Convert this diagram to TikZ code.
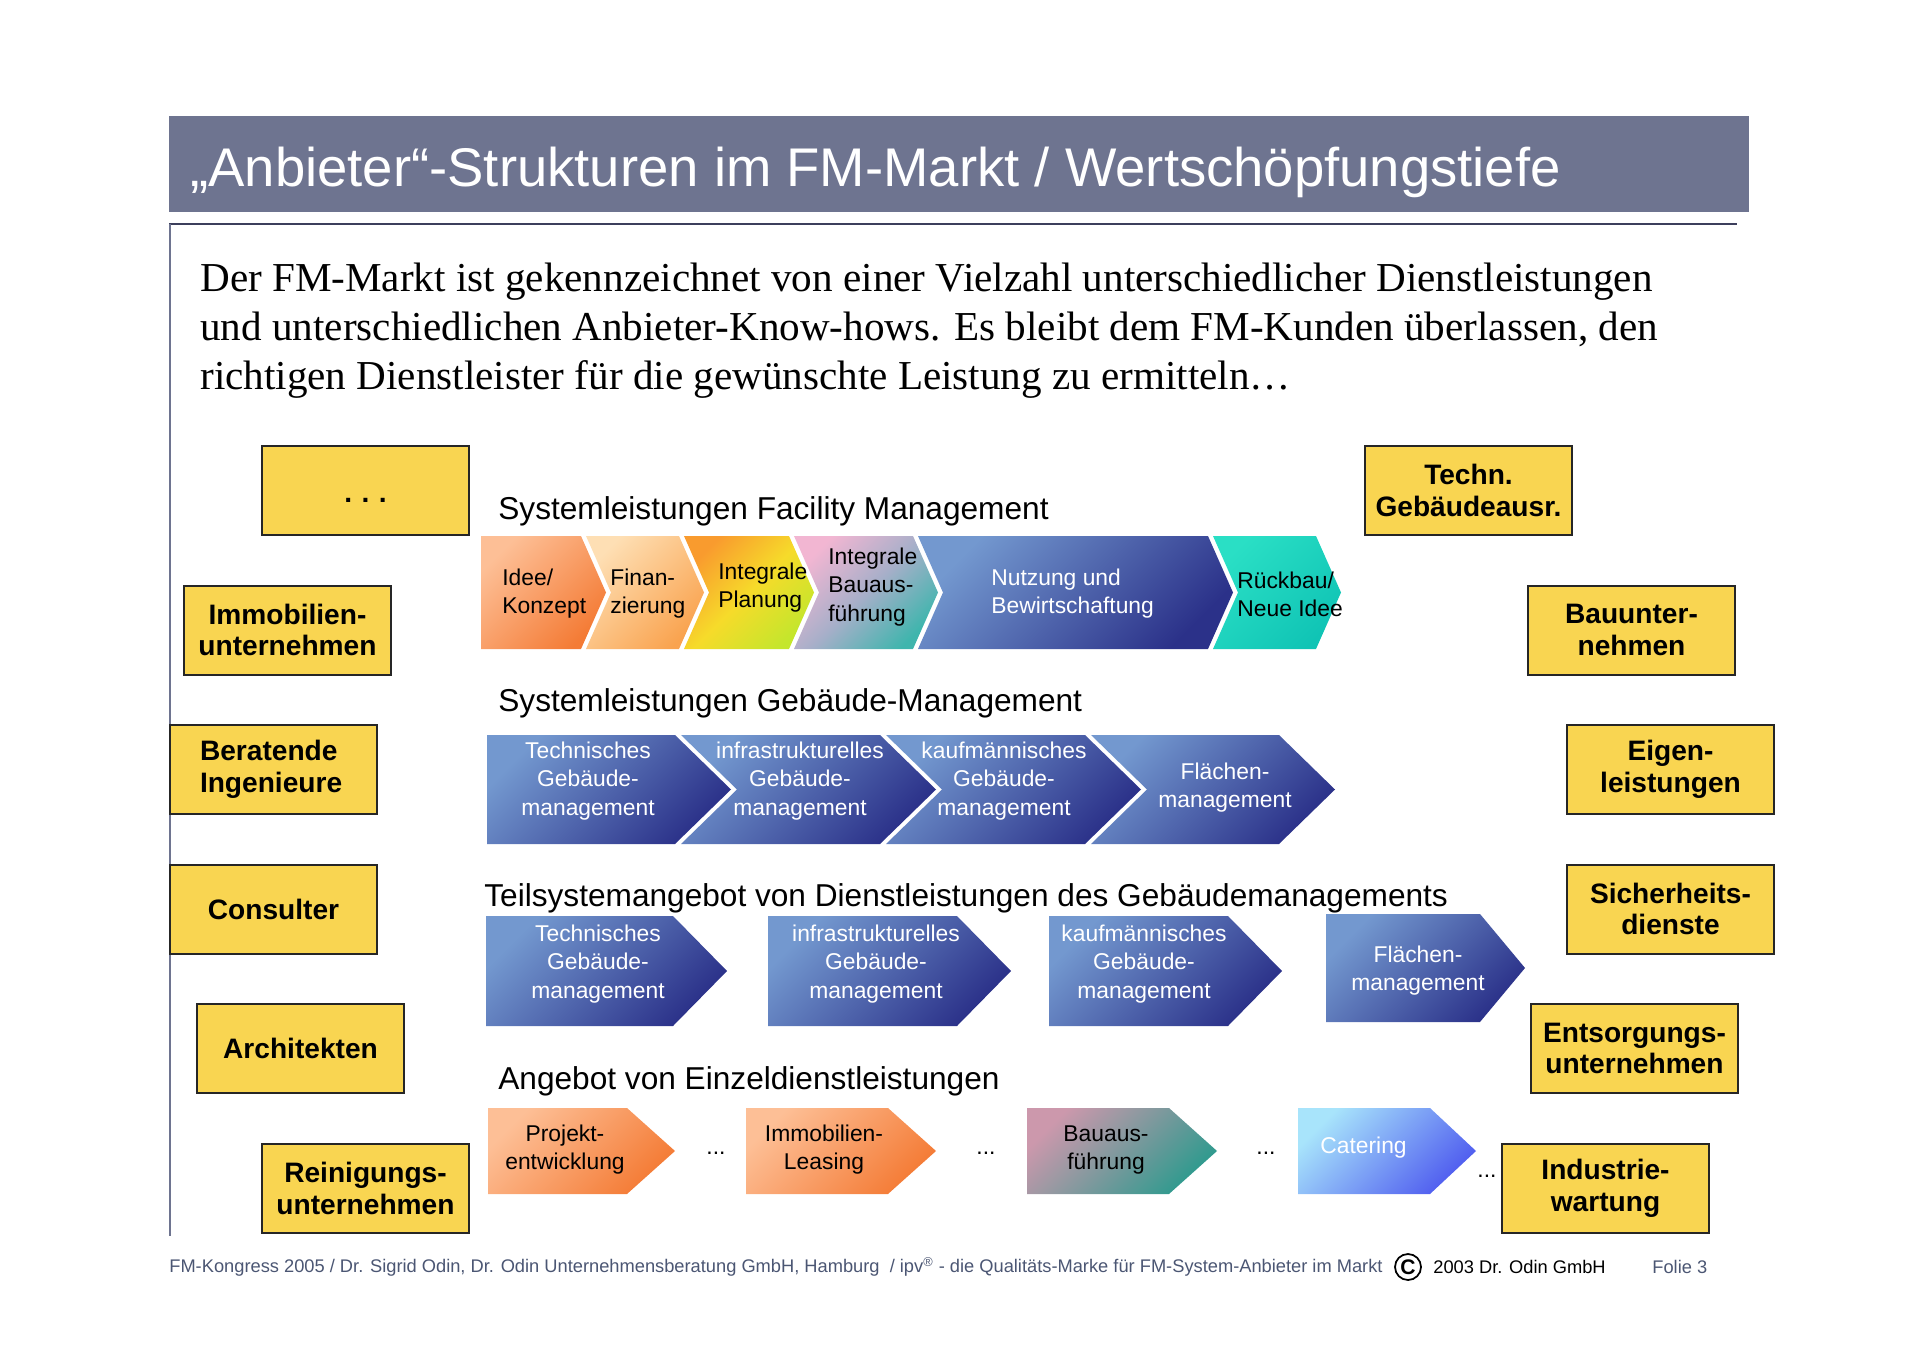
\documentclass[tikz,border=0pt]{standalone}
\usepackage{fontspec}
\setmainfont{Liberation Sans}
\newfontfamily\serifschrift{Liberation Serif}

\definecolor{balken}{HTML}{6E7490}
\definecolor{linie}{HTML}{3C3F5C}
\definecolor{fuss}{HTML}{4B5673}
\definecolor{boxgelb}{HTML}{F9D551}
\definecolor{orhell}{HTML}{FDBF96}
\definecolor{ordunkel}{HTML}{F47B35}
\definecolor{pfhell}{HTML}{FEDFB4}
\definecolor{pfdunkel}{HTML}{F9A34F}
\definecolor{gborange}{HTML}{F99B2E}
\definecolor{gbgelb}{HTML}{F6DB2A}
\definecolor{gbgruen}{HTML}{C4E62C}
\definecolor{rosa}{HTML}{F2B6D2}
\definecolor{graublau}{HTML}{A7AFC9}
\definecolor{petrol}{HTML}{3FB5AD}
\definecolor{blauhell}{HTML}{7398CF}
\definecolor{blaudunkel}{HTML}{2B3189}
\definecolor{tuerkis}{HTML}{2ADFC5}
\definecolor{tuerkisd}{HTML}{10C4B5}
\definecolor{mauve}{HTML}{CC98AC}
\definecolor{teal}{HTML}{2E9A8E}
\definecolor{himmel}{HTML}{A8E4FB}
\definecolor{ultramarin}{HTML}{4F5CEF}

% [style] x links, x rechts oben, y oben, y unten, Spitze, Kerbe
\newcommand{\pfeil}[7][]{%
  \path[#1] (#2,#4) -- (#3,#4) -- ({#3+#6},{(#4+#5)/2}) -- (#3,#5) -- (#2,#5) -- ({#2+#7},{(#4+#5)/2}) -- cycle;}

\tikzset{
  anbieter/.style={draw=black!85, line width=0.4mm, fill=boxgelb, align=center, inner sep=0pt,
    minimum width=41.4mm, minimum height=17.8mm, font=\fontsize{16}{18}\selectfont\bfseries},
  stufe/.style={align=center, inner sep=0pt, font=\fontsize{13}{16}\selectfont},
  zeile/.style={anchor=base west, inner sep=0pt, font=\fontsize{18}{21}\selectfont},
  fusstext/.style={anchor=west, inner sep=0pt, font=\fontsize{10.4}{12}\selectfont},
  orange/.style={shade, top color=orhell, bottom color=ordunkel, shading angle=45},
  blau/.style={shade, top color=blauhell, bottom color=blaudunkel, shading angle=45}
}

\begin{document}
\begin{tikzpicture}[x=0.2mm, y=-0.2mm]
  \useasboundingbox (0,0) rectangle (1920,1357);

  % Kopf
  \fill[balken] (169,116) rectangle (1749,212);
  \node[anchor=west, inner sep=0pt, text=white, font=\fontsize{31}{36}\selectfont] (titel) at (190,172)
    {„Anbieter“-Strukturen im FM-Markt / Wertschöpfungstiefe};
  \draw[linie, line width=0.4mm] (169,224) -- (1737,224);
  \draw[balken, line width=0.4mm] (170,224) -- (170,1236);

  \node[anchor=north west, align=left, inner sep=0pt, font=\serifschrift\fontsize{23.4}{27.9}\selectfont] (einleitung) at (200,263)
    {Der FM-Markt ist gekennzeichnet von einer Vielzahl unterschiedlicher Dienstleistungen\\
     und unterschiedlichen Anbieter-Know-hows. Es bleibt dem FM-Kunden überlassen, den\\
     richtigen Dienstleister für die gewünschte Leistung zu ermitteln…};

  % Ueberschriften der Ebenen
  \node[zeile] (ebene1) at (498,519) {Systemleistungen Facility Management};
  \node[zeile] (ebene2) at (498,711) {Systemleistungen Gebäude-Management};
  \node[zeile] (ebene3) at (484,906) {Teilsystemangebot von Dienstleistungen des Gebäudemanagements};
  \node[zeile] (ebene4) at (498,1089) {Angebot von Einzeldienstleistungen};

  % Ebene 1
  \pfeil[orange]{481}{581}{536}{649}{25}{0}
  \pfeil[shade, top color=pfhell, bottom color=pfdunkel, shading angle=45]{586}{679}{536}{649}{25}{25}
  \pfeil[shade, top color=gborange, bottom color=gbgruen, middle color=gbgelb, shading angle=45]{684}{789}{536}{649}{25}{25}
  \pfeil[shade, top color=rosa, bottom color=petrol, middle color=graublau, shading angle=45]{794}{913}{536}{649}{25}{25}
  \pfeil[blau]{918}{1208}{536}{649}{25}{25}
  \pfeil[shade, top color=tuerkis, bottom color=tuerkisd, shading angle=45]{1213}{1316}{536}{649}{25}{25}

  \node[stufe, anchor=west, align=left] (idee) at (502,594) {Idee/\\Konzept};
  \node[stufe, anchor=west, align=left] (finanz) at (610,594) {Finan-\\zierung};
  \node[stufe, anchor=west, align=left] (planung) at (718,588) {Integrale\\Planung};
  \node[stufe, anchor=west, align=left] (bau) at (828,587) {Integrale\\Bauaus-\\führung};
  \node[stufe, anchor=west, align=left, text=white] (nutzung) at (991,594) {Nutzung und\\Bewirtschaftung};
  \node[stufe, anchor=west, align=left] (rueckbau) at (1237,594) {Rückbau/\\Neue Idee};

  % Ebene 2
  \pfeil[blau]{487}{675}{735}{844}{56}{0}
  \pfeil[blau]{681}{880}{735}{844}{56}{56}
  \pfeil[blau]{886}{1085}{735}{844}{56}{56}
  \pfeil[blau]{1091}{1279}{735}{844}{56}{56}

  \node[stufe, text=white] (tgm) at (588,781) {Technisches\\Gebäude-\\management};
  \node[stufe, text=white] (igm) at (800,781) {infrastrukturelles\\Gebäude-\\management};
  \node[stufe, text=white] (kgm) at (1004,781) {kaufmännisches\\Gebäude-\\management};
  \node[stufe, text=white] (fm) at (1225,788) {Flächen-\\management};

  % Ebene 3
  \pfeil[blau]{486}{673}{916}{1026}{54}{0}
  \pfeil[blau]{768}{957}{916}{1026}{54}{0}
  \pfeil[blau]{1049}{1228}{916}{1026}{54}{0}
  \pfeil[blau]{1326}{1480}{914}{1022}{45}{0}

  \node[stufe, text=white] (tgm3) at (598,964) {Technisches\\Gebäude-\\management};
  \node[stufe, text=white] (igm3) at (876,964) {infrastrukturelles\\Gebäude-\\management};
  \node[stufe, text=white] (kgm3) at (1144,964) {kaufmännisches\\Gebäude-\\management};
  \node[stufe, text=white] (fm3) at (1418,971) {Flächen-\\management};

  % Ebene 4
  \pfeil[orange]{488}{627}{1108}{1194}{48}{0}
  \pfeil[orange]{746}{888}{1108}{1194}{48}{0}
  \pfeil[shade, top color=mauve, bottom color=teal, shading angle=45]{1027}{1169}{1108}{1194}{48}{0}
  \pfeil[shade, top color=himmel, bottom color=ultramarin, shading angle=45]{1298}{1430}{1108}{1194}{46}{0}

  \node[stufe] (projekt) at (565,1150) {Projekt-\\entwicklung};
  \node[stufe] (leasing) at (824,1150) {Immobilien-\\Leasing};
  \node[stufe] (ausf) at (1106,1150) {Bauaus-\\führung};
  \node[stufe, anchor=west, text=white] (catering) at (1320,1148) {Catering};
  \node[stufe] (pkt1) at (716,1153) {...};
  \node[stufe] (pkt2) at (986,1153) {...};
  \node[stufe] (pkt3) at (1266,1153) {...};
  \node[stufe] (pkt4) at (1487,1176) {...};

  % Anbieter links
  \node[anbieter] (weitere) at (365.5,490.5) {};
  \node[inner sep=0pt, font=\fontsize{16}{18}\selectfont\bfseries] (weiterepunkte) at (365.5,500) {.\,\,.\,\,.};
  \node[anbieter] (immo) at (287.5,630) {Immobilien-\\unternehmen};
  \node[anbieter, text width=29.4mm, align=left] (ingenieure) at (273.5,769.5) {Beratende\\Ingenieure};
  \node[anbieter] (consulter) at (273.5,909) {Consulter};
  \node[anbieter] (architekten) at (300.5,1048.5) {Architekten};
  \node[anbieter] (reinigung) at (365.5,1188.5) {Reinigungs-\\unternehmen};

  % Anbieter rechts
  \node[anbieter] (tga) at (1468.5,490.5) {Techn.\\Gebäudeausr.};
  \node[anbieter] (bauunt) at (1631.5,630) {Bauunter-\\nehmen};
  \node[anbieter] (eigen) at (1670.5,769.5) {Eigen-\\leistungen};
  \node[anbieter] (sicherheit) at (1670.5,909) {Sicherheits-\\dienste};
  \node[anbieter] (entsorgung) at (1634.5,1048.5) {Entsorgungs-\\unternehmen};
  \node[anbieter] (industrie) at (1605.5,1188.5) {Industrie-\\wartung};

  % Fusszeile
  \node[fusstext, text=fuss] (fusszeile) at (169,1267)
    {FM-Kongress 2005 / Dr. Sigrid Odin, Dr. Odin Unternehmensberatung GmbH, Hamburg\ \ / ipv\textsuperscript{®} - die Qualitäts-Marke für FM-System-Anbieter im Markt};
  \node[circle, draw, line width=0.35mm, inner sep=0pt, minimum size=5.2mm, font=\fontsize{12}{12}\selectfont\bfseries] (copyright) at (1408,1267) {C};
  \node[fusstext] (firma) at (1433,1267) {2003 Dr. Odin GmbH};
  \node[fusstext, text=fuss] (folie) at (1652,1267) {Folie 3};
\end{tikzpicture}
\end{document}
